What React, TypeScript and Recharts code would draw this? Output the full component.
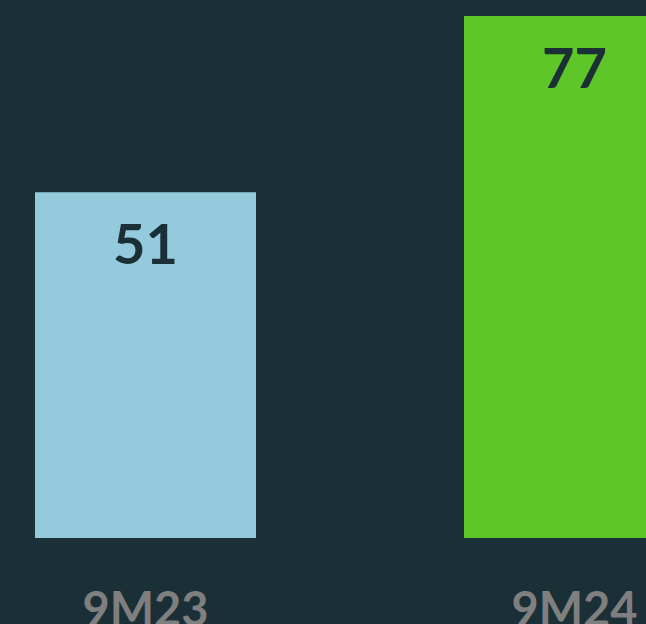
import { BarChart, Bar, XAxis, YAxis, Cell, LabelList } from 'recharts';

// Periods and values
const periods = ['9M23', '9M24'];
const values = [51, 77];
const barColors = ['#93cbdc', '#5ec628'];

const BG = '#1b3036';

const chartData = periods.map((period, i) => ({ period, value: values[i] }));

export default function App() {
  return (
    <div
      style={{
        position: 'fixed',
        left: 0,
        top: 0,
        width: 646,
        height: 624,
        background: BG,
        overflow: 'hidden',
      }}
    >
      <BarChart
        width={858}
        height={624}
        data={chartData}
        margin={{ top: 16, right: 0, bottom: 0, left: 0 }}
        style={{ position: 'absolute', left: -69, top: 0 }}
      >
        <YAxis hide domain={[0, 77]} />
        <XAxis
          dataKey="period"
          height={86}
          axisLine={false}
          tickLine={false}
          interval={0}
          tick={{ fill: '#7f7f7f', fontSize: 47, fontWeight: 700, fontFamily: 'Lato' }}
          tickMargin={49}
        />
        <Bar dataKey="value" barSize={221} isAnimationActive={false}>
          {chartData.map((d, i) => (
            <Cell key={d.period} fill={barColors[i]} />
          ))}
          <LabelList
            dataKey="value"
            position="insideTop"
            offset={32}
            fill={BG}
            fontSize={56}
            fontWeight={700}
            fontFamily="Lato"
          />
        </Bar>
      </BarChart>
    </div>
  );
}
